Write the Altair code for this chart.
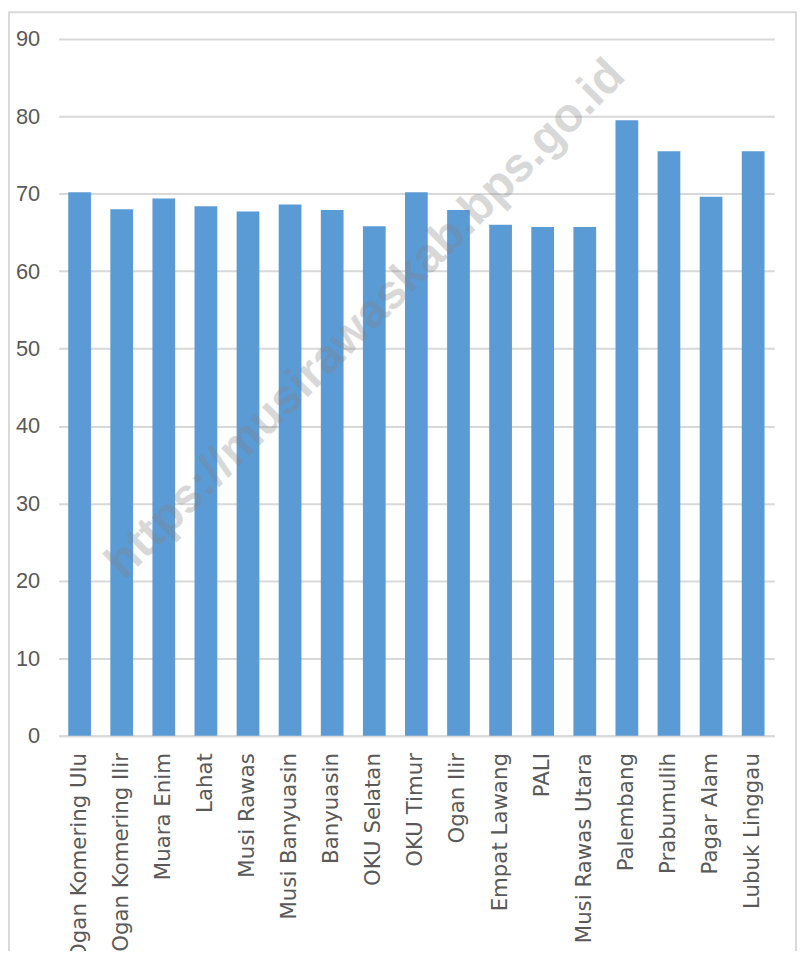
import altair as alt
import pandas as pd

regions = ["Ogan Komering Ulu", "Ogan Komering Ilir", "Muara Enim", "Lahat", "Musi Rawas",
           "Musi Banyuasin", "Banyuasin", "OKU Selatan", "OKU Timur", "Ogan Ilir",
           "Empat Lawang", "PALI", "Musi Rawas Utara", "Palembang", "Prabumulih",
           "Pagar Alam", "Lubuk Linggau"]
values = [70.2, 68.0, 69.4, 68.4, 67.7, 68.6, 67.9, 65.8, 70.2, 67.9,
          66.0, 65.7, 65.7, 79.5, 75.5, 69.6, 75.5]
y_ticks = [0, 10, 20, 30, 40, 50, 60, 70, 80, 90]
watermark = "https://musirawaskab.bps.go.id"

df = pd.DataFrame({"region": regions, "value": values})

W, H = 722, 703

bars = alt.Chart(df).mark_bar(color="#5B9BD5").encode(
    x=alt.X("region:N", sort=regions, title=None,
            scale=alt.Scale(paddingInner=0.46, paddingOuter=0.23),
            axis=alt.Axis(labelAngle=-90, ticks=False, labelPadding=17,
                          labelFont="DejaVu Sans", labelFontSize=21.5,
                          labelColor="#595959", domainColor="#d9d9d9",
                          domainWidth=2, grid=False, labelLimit=400)),
    y=alt.Y("value:Q", title=None,
            scale=alt.Scale(domain=[0, 90], nice=False),
            axis=alt.Axis(values=y_ticks, ticks=False, domain=False,
                          labelPadding=19, labelFont="Liberation Sans",
                          labelFontSize=22, labelColor="#595959",
                          gridColor="#d9d9d9", gridWidth=2)),
)

wm = alt.Chart(pd.DataFrame({"t": [watermark]})).mark_text(
    angle=315, font="Liberation Sans", fontWeight="bold", fontSize=48,
    color="#808080", opacity=0.3, align="center", baseline="middle"
).encode(text="t:N", x=alt.value(310), y=alt.value(283))

border = alt.Chart(pd.DataFrame({"a": [0]})).mark_rect(
    fill=None, stroke="#d9d9d9", strokeWidth=2, clip=False
).encode(x=alt.value(-50), x2=alt.value(W + 22), y=alt.value(-27), y2=alt.value(H + 240))

chart = alt.layer(bars, wm, border).properties(
    width=W, height=H,
    autosize=alt.AutoSizeParams(type="none"),
    padding={"left": 51, "top": 27, "right": 24, "bottom": 213},
).configure_view(stroke=None)

chart.save("out.html", embed_options={"renderer": "svg", "actions": False})
